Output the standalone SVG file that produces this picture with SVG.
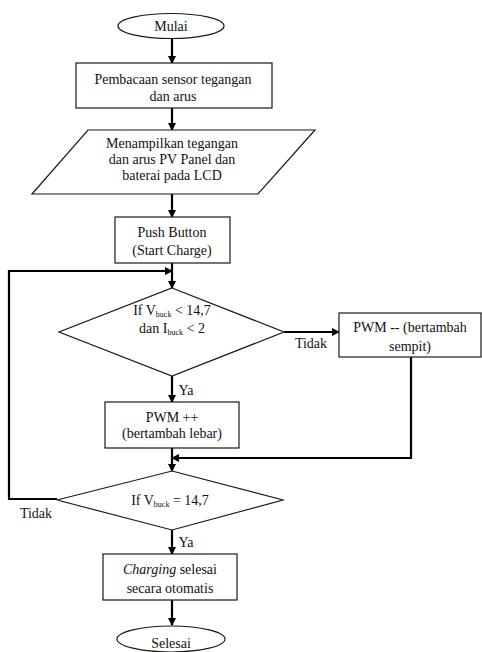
<svg xmlns="http://www.w3.org/2000/svg" width="482" height="652" viewBox="0 0 482 652" font-family="Liberation Serif, Times New Roman, serif">
<defs>
<marker id="ah" markerWidth="8" markerHeight="8" refX="7" refY="4" orient="auto" markerUnits="userSpaceOnUse">
<path d="M0,0 L8,4 L0,8 z" fill="#000"/>
</marker>
<style>
.s{fill:#fff;stroke:#1a1a1a;stroke-width:1.2}
.t{font-family:'Liberation Serif','Times New Roman',serif;font-size:14px;fill:#111;text-anchor:middle}
.sub{font-size:8px}
.ca{fill:none;stroke:#000;stroke-width:2.2;marker-end:url(#ah)}
</style>
</defs>
<rect width="482" height="652" fill="#fff"/>
<g id="connectors">
<line class="ca" x1="172" y1="39" x2="172" y2="63"/>
<line class="ca" x1="172" y1="108" x2="172" y2="130"/>
<line class="ca" x1="172" y1="194" x2="172" y2="217"/>
<line class="ca" x1="172" y1="263" x2="172" y2="288"/>
<polyline class="ca" points="57,499 9,499 9,271 172,271"/>
<line class="ca" x1="284" y1="332" x2="339" y2="332"/>
<line class="ca" x1="172" y1="376" x2="172" y2="402"/>
<line class="ca" x1="172" y1="448" x2="172" y2="471"/>
<polyline class="ca" points="411,357 411,458 172,458"/>
<line class="ca" x1="172" y1="530" x2="172" y2="554"/>
<line class="ca" x1="172" y1="600" x2="172" y2="625"/>
<text class="t" x="311" y="348">Tidak</text>
<text class="t" x="186" y="395">Ya</text>
<text class="t" x="36" y="518">Tidak</text>
<text class="t" x="186" y="547">Ya</text>
</g>
<g id="mulai">
<ellipse class="s" cx="171" cy="26" rx="53" ry="12.5"/>
<text class="t" x="171" y="31">Mulai</text>
</g>
<g id="baca">
<rect class="s" x="76" y="63" width="196" height="45"/>
<text class="t" x="173" y="84">Pembacaan sensor tegangan</text>
<text class="t" x="173" y="101">dan arus</text>
</g>
<g id="tampil">
<polygon class="s" points="88,130 315,130 258,194 32,194"/>
<text class="t" x="172" y="148">Menampilkan tegangan</text>
<text class="t" x="172" y="164">dan arus PV Panel dan</text>
<text class="t" x="172" y="180">baterai pada LCD</text>
</g>
<g id="push">
<rect class="s" x="115" y="217" width="115" height="46"/>
<text class="t" x="172" y="237">Push Button</text>
<text class="t" x="172" y="255">(Start Charge)</text>
</g>
<g id="cek1">
<polygon class="s" points="172,288 284,332 172,376 59,332"/>
<text class="t" x="172" y="315">If V<tspan class="sub" dy="2">buck</tspan><tspan dy="-2"> &lt; 14,7</tspan></text>
<text class="t" x="172" y="333">dan I<tspan class="sub" dy="2">buck</tspan><tspan dy="-2"> &lt; 2</tspan></text>
</g>
<g id="pwmmin">
<rect class="s" x="339" y="313" width="142" height="44"/>
<text class="t" x="410" y="332">PWM -- (bertambah</text>
<text class="t" x="410" y="351">sempit)</text>
</g>
<g id="pwmplus">
<rect class="s" x="105" y="402" width="134" height="46"/>
<text class="t" x="172" y="422">PWM ++</text>
<text class="t" x="172" y="438">(bertambah lebar)</text>
</g>
<g id="cek2">
<polygon class="s" points="172,471 283,500 172,530 57,500"/>
<text class="t" x="170" y="505">If V<tspan class="sub" dy="2">buck</tspan><tspan dy="-2"> = 14,7</tspan></text>
</g>
<g id="charging">
<rect class="s" x="103" y="554" width="134" height="46"/>
<text class="t" x="170" y="574"><tspan font-style="italic">Charging</tspan> selesai</text>
<text class="t" x="170" y="593">secara otomatis</text>
</g>
<g id="selesai">
<ellipse class="s" cx="171" cy="639" rx="54" ry="13"/>
<text class="t" x="171" y="648">Selesai</text>
</g>
</svg>
